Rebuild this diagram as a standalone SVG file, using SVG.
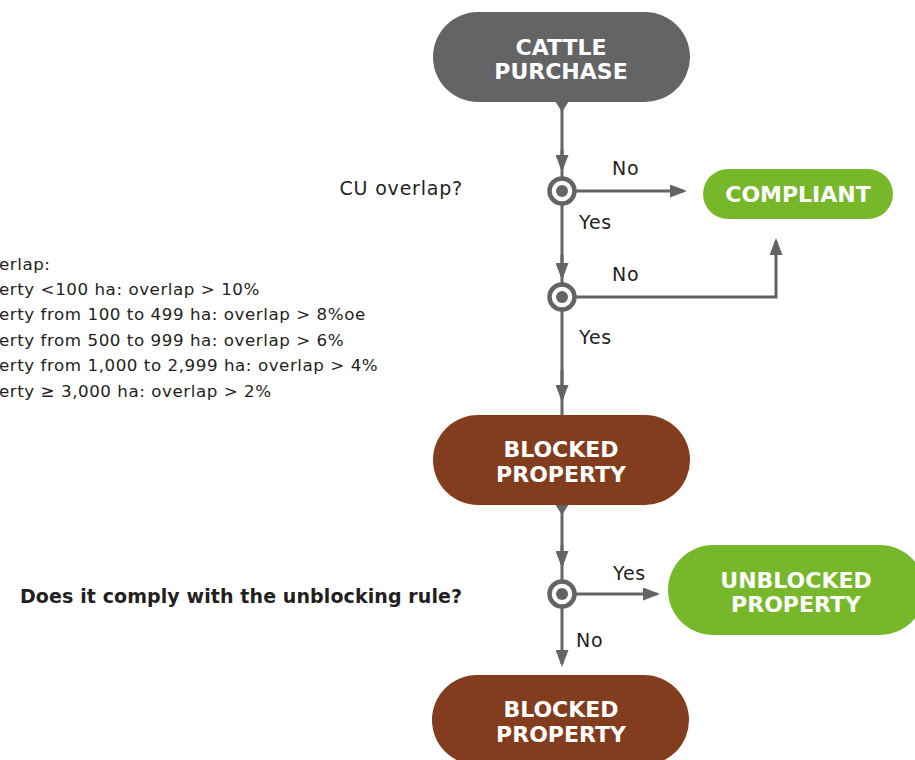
<svg xmlns="http://www.w3.org/2000/svg" width="915" height="760" viewBox="0 0 915 760">
<defs>
<style>
.pill-gray{fill:#636466}
.pill-brown{fill:#823c1e}
.pill-green{fill:#77b82a}
.nt{font-family:"DejaVu Sans","Liberation Sans",sans-serif;font-weight:bold;font-size:22px;fill:#fff;text-anchor:middle}
.lbl{font-family:"DejaVu Sans","Liberation Sans",sans-serif;font-size:19px;fill:#231f20;letter-spacing:0.8px}
.note{font-family:"DejaVu Sans","Liberation Sans",sans-serif;font-size:16.7px;fill:#231f20;letter-spacing:0.55px}
.q{font-family:"DejaVu Sans","Liberation Sans",sans-serif;font-size:19px;font-weight:bold;fill:#231f20;letter-spacing:0.1px}
.ln{fill:none;stroke:#636466;stroke-width:3}
.ring{fill:#fff;stroke:#636466;stroke-width:4.5}
.dot{fill:#636466}
</style>
<marker id="ah" viewBox="0 0 17 13" refX="14" refY="6.5" markerWidth="17" markerHeight="13" markerUnits="userSpaceOnUse" orient="auto">
<path d="M0,0 L17,6.5 L0,13 Z" fill="#636466"/>
</marker>
</defs>

<g id="connectors">
<polygon points="555,101 569,101 562,112" fill="#636466"/>
<path class="ln" d="M562,108 V178"/>
<path class="ln" d="M562,150 V169" marker-end="url(#ah)"/>
<path class="ln" d="M576,191 H684" marker-end="url(#ah)"/>
<path class="ln" d="M562,205 V284"/>
<path class="ln" d="M562,255 V277" marker-end="url(#ah)"/>
<path class="ln" d="M576,297 H776 V241" marker-end="url(#ah)"/>
<path class="ln" d="M562,311 V416"/>
<path class="ln" d="M562,370 V399" marker-end="url(#ah)"/>
<polygon points="555,504 569,504 562,515" fill="#636466"/>
<path class="ln" d="M562,510 V581"/>
<path class="ln" d="M562,545 V565" marker-end="url(#ah)"/>
<path class="ln" d="M576,594 H657" marker-end="url(#ah)"/>
<path class="ln" d="M562,608 V664" marker-end="url(#ah)"/>
</g>

<g id="decision1">
<circle class="ring" cx="562" cy="191" r="12.5"/>
<circle class="dot" cx="562" cy="191" r="6"/>
</g>
<g id="decision2">
<circle class="ring" cx="562" cy="297" r="12.5"/>
<circle class="dot" cx="562" cy="297" r="6"/>
</g>
<g id="decision3">
<circle class="ring" cx="562" cy="594" r="12.5"/>
<circle class="dot" cx="562" cy="594" r="6"/>
</g>

<g id="labels">
<text class="lbl" x="463" y="195" text-anchor="end">CU overlap?</text>
<text class="lbl" x="612" y="175">No</text>
<text class="lbl" x="579" y="229">Yes</text>
<text class="lbl" x="612" y="281">No</text>
<text class="lbl" x="579" y="344">Yes</text>
<text class="lbl" x="613" y="580">Yes</text>
<text class="lbl" x="576" y="647">No</text>
<text class="q" x="20" y="603">Does it comply with the unblocking rule?</text>
</g>

<g id="note">
<text class="note" x="-1" y="270" font-size="17.5">erlap:</text>
<text class="note" x="-1" y="295">erty &lt;100 ha: overlap &gt; 10%</text>
<text class="note" x="-1" y="320">erty from 100 to 499 ha: overlap &gt; 8%oe</text>
<text class="note" x="-1" y="346">erty from 500 to 999 ha: overlap &gt; 6%</text>
<text class="note" x="-1" y="371">erty from 1,000 to 2,999 ha: overlap &gt; 4%</text>
<text class="note" x="-1" y="397">erty ≥ 3,000 ha: overlap &gt; 2%</text>
</g>

<g id="cattle-purchase">
<rect class="pill-gray" x="433" y="12" width="257" height="90" rx="45"/>
<text class="nt" x="561" y="55">CATTLE</text>
<text class="nt" x="561" y="79">PURCHASE</text>
</g>

<g id="compliant">
<rect class="pill-green" x="703" y="169" width="190" height="50" rx="25"/>
<text class="nt" x="798" y="202">COMPLIANT</text>
</g>

<g id="blocked-property-1">
<rect class="pill-brown" x="433" y="415" width="257" height="90" rx="45"/>
<text class="nt" x="561" y="457">BLOCKED</text>
<text class="nt" x="561" y="482">PROPERTY</text>
</g>

<g id="unblocked-property">
<rect class="pill-green" x="668" y="545" width="257" height="90" rx="45"/>
<text class="nt" x="796" y="588">UNBLOCKED</text>
<text class="nt" x="796" y="612">PROPERTY</text>
</g>

<g id="blocked-property-2">
<rect class="pill-brown" x="432" y="675" width="257" height="90" rx="45"/>
<text class="nt" x="561" y="717">BLOCKED</text>
<text class="nt" x="561" y="742">PROPERTY</text>
</g>
</svg>
